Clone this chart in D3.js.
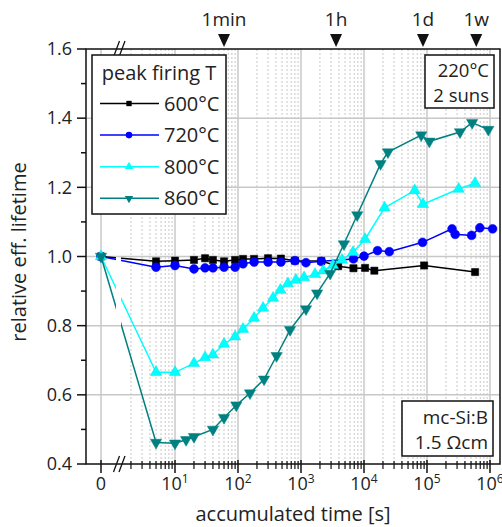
<!DOCTYPE html>
<html>
<head>
<meta charset="utf-8">
<script src="https://cdnjs.cloudflare.com/ajax/libs/d3/7.8.5/d3.min.js"></script>
<style>
  body { margin: 0; background: #fff; }
  text { font-family: "Open Sans", sans-serif; fill: #222; }
</style>
</head>
<body>
<svg width="502" height="527"></svg>
<script>
// ~~~~~~ DATA ~~~~~~
var series_names = ["600°C", "720°C", "800°C", "860°C"];

var t_600 = [0, 5, 10, 20, 30, 40, 60, 90, 120, 180, 300, 480, 800, 2100, 3900, 6800, 10400, 14600, 90000, 580000];
var v_600 = [1.0, 0.986, 0.988, 0.990, 0.995, 0.990, 0.986, 0.990, 0.993, 0.993, 0.995, 0.994, 0.988, 0.987, 0.972, 0.966, 0.967, 0.959, 0.974, 0.955];

var t_720 = [0, 5, 10, 20, 30, 40, 60, 90, 120, 180, 300, 480, 800, 1200, 2100, 6800, 10000, 16400, 25200, 85000, 250000, 280000, 510000, 690000, 1100000];
var v_720 = [1.0, 0.969, 0.974, 0.964, 0.967, 0.967, 0.969, 0.969, 0.979, 0.984, 0.984, 0.984, 0.988, 0.982, 0.986, 0.993, 1.001, 1.017, 1.014, 1.041, 1.080, 1.064, 1.061, 1.083, 1.080];

var t_800 = [0, 5, 10, 20, 30, 40, 60, 90, 120, 180, 250, 360, 470, 620, 830, 1120, 1670, 2260, 3220, 4480, 6700, 10400, 21200, 63800, 86400, 318000, 578000];
var v_800 = [1.0, 0.665, 0.665, 0.691, 0.708, 0.716, 0.747, 0.768, 0.790, 0.822, 0.851, 0.880, 0.903, 0.922, 0.932, 0.939, 0.949, 0.959, 0.975, 0.990, 1.012, 1.050, 1.141, 1.191, 1.151, 1.195, 1.212];

var t_860 = [0, 5, 10, 15, 20, 40, 60, 94, 155, 259, 410, 670, 1200, 1800, 2900, 4800, 7800, 18300, 24000, 81000, 109000, 334000, 520000, 940000];
var v_860 = [1.0, 0.462, 0.460, 0.470, 0.479, 0.500, 0.534, 0.570, 0.605, 0.645, 0.713, 0.788, 0.848, 0.894, 0.951, 1.036, 1.120, 1.268, 1.302, 1.351, 1.333, 1.360, 1.387, 1.367];

var y_ticks = [0.4, 0.6, 0.8, 1.0, 1.2, 1.4, 1.6];
var y_minor = [0.5, 0.7, 0.9, 1.1, 1.3, 1.5];
var x_exponents = [1, 2, 3, 4, 5, 6];
var top_labels = ["1min", "1h", "1d", "1w"];
var top_times = [60, 3600, 86400, 604800];

// ~~~~~~ STYLES ~~~~~~
var colors = ["#000000", "#0000ff", "#00ffff", "#008080"];
var symbols = [d3.symbolSquare, d3.symbolCircle, d3.symbolTriangle, d3.symbolTriangle];
var sym_size = [52, 62, 55, 55];
var sym_rot = [0, 0, 0, 180];

var series = [
  {name: series_names[0], t: t_600, v: v_600},
  {name: series_names[1], t: t_720, v: v_720},
  {name: series_names[2], t: t_800, v: v_800},
  {name: series_names[3], t: t_860, v: v_860}
];

// ~~~~~~ SVG / SCALES ~~~~~~
var svg = d3.select("svg"),
    plot = {left: 86, right: 500, top: 49, bottom: 464};

var x_zero = 101;
var x_log = d3.scaleLog().domain([1, 1e6]).range([112, 490]);
var y = d3.scaleLinear().domain([0.4, 1.6]).range([plot.bottom, plot.top]);

function xpos(t) { return t === 0 ? x_zero : x_log(t); }

var grid_g = svg.append("g");

// minor vertical dotted grid (2..9 per decade)
var minor_x = [];
for (var e = 0; e < 6; e++) {
  for (var m = 2; m < 10; m++) minor_x.push(m * Math.pow(10, e));
}
grid_g.selectAll(".vminor")
  .data(minor_x)
  .enter().append("line")
  .attr("x1", function(d) { return x_log(d); })
  .attr("x2", function(d) { return x_log(d); })
  .attr("y1", plot.top).attr("y2", plot.bottom)
  .style("stroke", "#c8c8c8")
  .style("stroke-width", 1)
  .style("stroke-dasharray", "2,2");

// major vertical grid
var major_x = [x_zero].concat(x_exponents.map(function(d) { return x_log(Math.pow(10, d)); }));
grid_g.selectAll(".vmajor")
  .data(major_x)
  .enter().append("line")
  .attr("x1", function(d) { return d; })
  .attr("x2", function(d) { return d; })
  .attr("y1", plot.top).attr("y2", plot.bottom)
  .style("stroke", "#c8c8c8")
  .style("stroke-width", 1.5);

// horizontal grid
grid_g.selectAll(".hgrid")
  .data(y_ticks.slice(1, -1))
  .enter().append("line")
  .attr("x1", plot.left).attr("x2", plot.right)
  .attr("y1", function(d) { return y(d); })
  .attr("y2", function(d) { return y(d); })
  .style("stroke", "#c8c8c8")
  .style("stroke-width", 1.5);

// break mask for the data lines
var defs = svg.append("defs");
var mask = defs.append("mask").attr("id", "brk");
mask.append("rect").attr("x", 0).attr("y", 0).attr("width", 502).attr("height", 527).attr("fill", "#fff");
mask.append("rect").attr("x", 116).attr("y", plot.top).attr("width", 5).attr("height", plot.bottom - plot.top).attr("fill", "#000");

// ~~~~~~ SERIES ~~~~~~
var line = d3.line()
  .x(function(d) { return xpos(d[0]); })
  .y(function(d) { return y(d[1]); });

series.forEach(function(s, i) {
  var pts = s.t.map(function(t, k) { return [t, s.v[k]]; });
  var g = svg.append("g");
  g.append("path")
    .attr("d", line(pts))
    .attr("mask", "url(#brk)")
    .style("fill", "none")
    .style("stroke", colors[i])
    .style("stroke-width", 1.5);
  g.selectAll("path.mk")
    .data(pts)
    .enter().append("path")
    .attr("class", "mk")
    .attr("d", d3.symbol().type(symbols[i]).size(sym_size[i]))
    .attr("transform", function(d) {
      return "translate(" + xpos(d[0]) + "," + y(d[1]) + ") rotate(" + sym_rot[i] + ")";
    })
    .style("fill", colors[i])
    .style("stroke", i === 2 ? "#00e5e5" : colors[i])
    .style("stroke-width", 0.5);
});

// ~~~~~~ FRAME & AXES ~~~~~~
svg.append("rect")
  .attr("x", plot.left).attr("y", plot.top)
  .attr("width", plot.right - plot.left).attr("height", plot.bottom - plot.top)
  .style("fill", "none")
  .style("stroke", "#111")
  .style("stroke-width", 1.5);

// y ticks
svg.selectAll(".ytick")
  .data(y_ticks)
  .enter().append("line")
  .attr("x1", plot.left - 9).attr("x2", plot.left)
  .attr("y1", function(d) { return y(d); }).attr("y2", function(d) { return y(d); })
  .style("stroke", "#111").style("stroke-width", 1.5);
svg.selectAll(".yminor")
  .data(y_minor)
  .enter().append("line")
  .attr("x1", plot.left - 5).attr("x2", plot.left)
  .attr("y1", function(d) { return y(d); }).attr("y2", function(d) { return y(d); })
  .style("stroke", "#111").style("stroke-width", 1.5);
svg.selectAll(".ylab")
  .data(y_ticks)
  .enter().append("text")
  .attr("x", 72)
  .attr("y", function(d) { return y(d); })
  .attr("dy", "0.35em")
  .attr("text-anchor", "end")
  .style("font-size", "18px")
  .text(function(d) { return d3.format(".1f")(d); });

// x ticks
svg.selectAll(".xminor")
  .data(minor_x.filter(function(d) { return d > 1.5; }))
  .enter().append("line")
  .attr("x1", function(d) { return x_log(d); }).attr("x2", function(d) { return x_log(d); })
  .attr("y1", plot.bottom - 3).attr("y2", plot.bottom + 5)
  .style("stroke", "#111").style("stroke-width", 1.2);
svg.selectAll(".xmajor")
  .data(major_x)
  .enter().append("line")
  .attr("x1", function(d) { return d; }).attr("x2", function(d) { return d; })
  .attr("y1", plot.bottom - 4).attr("y2", plot.bottom + 9)
  .style("stroke", "#111").style("stroke-width", 1.5);

svg.append("text")
  .attr("x", x_zero).attr("y", 490)
  .attr("text-anchor", "middle")
  .style("font-size", "18px")
  .text("0");
var xl = svg.selectAll(".xlab")
  .data(x_exponents)
  .enter().append("text")
  .attr("x", function(d) { return x_log(Math.pow(10, d)); })
  .attr("y", 490)
  .attr("text-anchor", "middle")
  .style("font-size", "18px");
xl.append("tspan").text("10");
xl.append("tspan").attr("dy", -7).style("font-size", "12px").text(function(d) { return d; });

// break marks
[plot.top, plot.bottom].forEach(function(yy) {
  [116.5, 122].forEach(function(xx) {
    svg.append("line")
      .attr("x1", xx - 3).attr("y1", yy + 8)
      .attr("x2", xx + 3).attr("y2", yy - 8)
      .style("stroke", "#111").style("stroke-width", 1.3);
  });
});

// top time markers
top_times.forEach(function(t, i) {
  var xx = x_log(t);
  svg.append("path")
    .attr("d", "M" + (xx - 6) + ",34L" + (xx + 6) + ",34L" + xx + ",47Z")
    .style("fill", "#111");
  svg.append("text")
    .attr("x", xx).attr("y", 26)
    .attr("text-anchor", "middle")
    .style("font-size", "19px")
    .text(top_labels[i]);
});

// axis titles
svg.append("text")
  .attr("x", 293).attr("y", 521)
  .attr("text-anchor", "middle")
  .style("font-size", "20px")
  .text("accumulated time [s]");
svg.append("text")
  .attr("transform", "translate(26,252) rotate(-90)")
  .attr("text-anchor", "middle")
  .style("font-size", "20px")
  .text("relative eff. lifetime");

// ~~~~~~ LEGEND ~~~~~~
var leg = svg.append("g");
leg.append("rect")
  .attr("x", 92).attr("y", 55).attr("width", 134).attr("height", 159)
  .style("fill", "#fff").style("stroke", "#111").style("stroke-width", 1.5);
leg.append("text")
  .attr("x", 159).attr("y", 73).attr("dy", "0.35em")
  .attr("text-anchor", "middle")
  .style("font-size", "20px")
  .text("peak firing T");
series.forEach(function(s, i) {
  var yy = 103.5 + i * 31.6;
  leg.append("line")
    .attr("x1", 100).attr("x2", 159).attr("y1", yy).attr("y2", yy)
    .style("stroke", colors[i]).style("stroke-width", 1.5);
  leg.append("path")
    .attr("d", d3.symbol().type(symbols[i]).size(sym_size[i] * 0.55))
    .attr("transform", "translate(129," + yy + ") rotate(" + sym_rot[i] + ")")
    .style("fill", colors[i]);
  leg.append("text")
    .attr("x", 164).attr("y", yy).attr("dy", "0.35em")
    .style("font-size", "20px")
    .text(s.name);
});

// ~~~~~~ ANNOTATION BOXES ~~~~~~
svg.append("rect")
  .attr("x", 425).attr("y", 55).attr("width", 69).attr("height", 53)
  .style("fill", "#fff").style("stroke", "#111").style("stroke-width", 1.5);
svg.append("text").attr("x", 489).attr("y", 77).attr("text-anchor", "end")
  .style("font-size", "18.5px").text("220°C");
svg.append("text").attr("x", 489).attr("y", 102).attr("text-anchor", "end")
  .style("font-size", "18.5px").text("2 suns");

svg.append("rect")
  .attr("x", 402).attr("y", 401).attr("width", 91).attr("height", 55)
  .style("fill", "#fff").style("stroke", "#111").style("stroke-width", 1.5);
svg.append("text").attr("x", 488).attr("y", 424).attr("text-anchor", "end")
  .style("font-size", "19px").text("mc-Si:B");
svg.append("text").attr("x", 488).attr("y", 449).attr("text-anchor", "end")
  .style("font-size", "19px").text("1.5 Ωcm");
</script>
</body>
</html>
